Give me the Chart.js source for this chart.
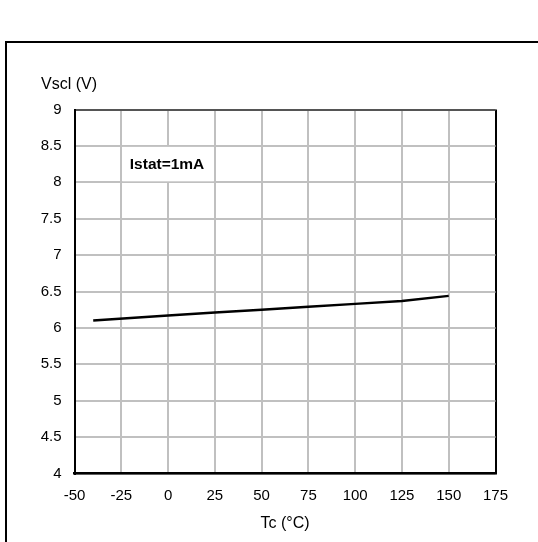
<!DOCTYPE html>
<html>
<head>
<meta charset="utf-8">
<script src="https://cdn.jsdelivr.net/npm/chart.js@4/dist/chart.umd.min.js"></script>
<style>
  html, body { margin: 0; padding: 0; background: #fff; overflow: hidden; }
  #frame { position: absolute; left: 5px; top: 41px; width: 600px; height: 600px; border: 2px solid #000; }
  #wrap { position: absolute; left: 0; top: 0; width: 538px; height: 542px; }
</style>
</head>
<body>
<div id="frame"></div>
<div id="wrap"><canvas id="c"></canvas></div>
<script>
// Case temperature (°C) and clamping voltage Vscl (V) at Istat = 1 mA
const tempC = [-40, 0, 25, 50, 75, 100, 125, 150];
const vscl  = [6.10, 6.17, 6.21, 6.25, 6.29, 6.33, 6.37, 6.44];

// Axis ranges and tick steps
const xRange = [-50, 175];
const xStep = 25;
const yRange = [4, 9];
const yStep = 0.5;

const xTitle = 'Tc (°C)';
const yTitle = 'Vscl (V)';
const noteText = 'Istat=1mA';
const noteCell = { x: [-25, 25], y: [8, 8.5] };

const FONT = 'Arial, "Liberation Sans", Helvetica, sans-serif';

const extras = {
  id: 'extras',
  beforeDatasetsDraw(chart) {
    const { ctx, scales: { x, y } } = chart;
    // label box sitting inside one grid cell
    const x0 = x.getPixelForValue(noteCell.x[0]) + 1;
    const x1 = x.getPixelForValue(noteCell.x[1]) - 1;
    const y0 = y.getPixelForValue(noteCell.y[1]) + 1;
    const y1 = y.getPixelForValue(noteCell.y[0]) - 1;
    ctx.save();
    ctx.fillStyle = '#fff';
    ctx.fillRect(x0, y0, x1 - x0, y1 - y0);
    ctx.fillStyle = '#000';
    ctx.font = 'bold 15.5px ' + FONT;
    ctx.textAlign = 'center';
    ctx.textBaseline = 'middle';
    ctx.fillText(noteText, (x0 + x1) / 2 - 1, (y0 + y1) / 2 + 1);
    ctx.restore();
  },
  afterDraw(chart) {
    const { ctx, chartArea } = chart;
    ctx.save();
    ctx.fillStyle = '#000';
    ctx.font = '16px ' + FONT;
    ctx.textAlign = 'left';
    ctx.textBaseline = 'middle';
    ctx.fillText(yTitle, 41, chartArea.top - 25);
    ctx.restore();
  }
};

new Chart(document.getElementById('c'), {
  type: 'line',
  data: {
    datasets: [{
      data: tempC.map((t, i) => ({ x: t, y: vscl[i] })),
      borderColor: '#000',
      borderWidth: 2.5,
      pointRadius: 0,
      tension: 0,
      fill: false
    }]
  },
  options: {
    responsive: true,
    maintainAspectRatio: false,
    animation: false,
    events: [],
    layout: { padding: { left: 20, top: 109.5, right: 42.5, bottom: 0 } },
    plugins: { legend: { display: false }, tooltip: { enabled: false } },
    scales: {
      x: {
        type: 'linear',
        min: xRange[0], max: xRange[1],
        afterFit: s => { s.height = 68.5; },
        ticks: { stepSize: xStep, color: '#000', font: { family: FONT, size: 15 }, padding: 13, maxRotation: 0,
                 callback: v => String(v) },
        grid: {
          drawTicks: false,
          color: c => (c.tick && c.tick.value === xRange[1]) ? '#000' : '#c0c0c0',
          lineWidth: 2
        },
        border: { display: true, color: '#000', width: 2.5 },
        title: { display: true, text: xTitle, color: '#000', font: { family: FONT, size: 16 }, padding: { top: 0, bottom: 9 } }
      },
      y: {
        type: 'linear',
        min: yRange[0], max: yRange[1],
        afterFit: s => { s.width = 54.5; },
        ticks: { stepSize: yStep, color: '#000', font: { family: FONT, size: 15 }, padding: 13,
                 callback: v => String(v) },
        grid: {
          drawTicks: false,
          color: c => (c.tick && c.tick.value === yRange[1]) ? '#555' : '#c0c0c0',
          lineWidth: 2
        },
        border: { display: true, color: '#000', width: 2 }
      }
    }
  },
  plugins: [extras]
});
</script>
</body>
</html>
